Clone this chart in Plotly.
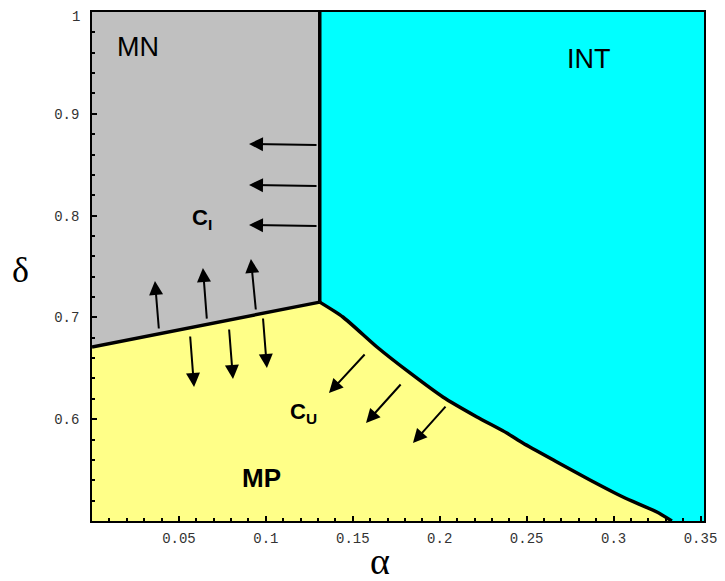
import plotly.graph_objects as go

# ---- data ----
# MN / MP boundary (straight line from left edge to the triple point)
mn_mp_alpha = [0.0, 0.131]
mn_mp_delta = [0.671, 0.715]
# MN / INT boundary (vertical line)
mn_int_alpha = [0.131, 0.131]
mn_int_delta = [0.715, 1.0]
# MP / INT boundary (curve)
mp_int_alpha = [0.131, 0.1443, 0.1639, 0.1829, 0.2018, 0.2214, 0.2386, 0.2478,
                0.2674, 0.2864, 0.3054, 0.3249, 0.3335]
mp_int_delta = [0.715, 0.7004, 0.6709, 0.6454, 0.6218, 0.6022, 0.5864, 0.5766,
                0.5580, 0.5403, 0.5236, 0.5088, 0.5000]

alpha_range = [0.0, 0.352]
delta_range = [0.5, 1.0]

# arrows: tail (alpha, delta) -> head (alpha, delta)
arrow_tail_alpha = [0.130, 0.130, 0.130,
                    0.0385, 0.0661, 0.0943,
                    0.0564, 0.0788, 0.0983,
                    0.1576, 0.1783, 0.2041]
arrow_tail_delta = [0.8693, 0.8291, 0.7898,
                    0.6876, 0.6974, 0.7063,
                    0.6827, 0.6896, 0.7004,
                    0.6650, 0.6356, 0.6139]
arrow_head_alpha = [0.0903, 0.0903, 0.0903,
                    0.0362, 0.0638, 0.0914,
                    0.0587, 0.0811, 0.1006,
                    0.1363, 0.1576, 0.1846]
arrow_head_delta = [0.8703, 0.8301, 0.7908,
                    0.7358, 0.7485, 0.7574,
                    0.6316, 0.6395, 0.6503,
                    0.6257, 0.5963, 0.5766]

# region labels
region_names = ["MN", "INT", "MP"]
region_alpha = [0.0265, 0.286, 0.0972]
region_delta = [0.9656, 0.9538, 0.5423]

x_tickvals = [0.05, 0.1, 0.15, 0.2, 0.25, 0.3, 0.35]
x_ticktext = ["0.05", "0.1", "0.15", "0.2", "0.25", "0.3", "0.35"]
y_tickvals = [0.6, 0.7, 0.8, 0.9, 1.0]
y_ticktext = ["0.6", "0.7", "0.8", "0.9", "1"]

GRAY = "#C0C0C0"
CYAN = "#00FFFF"
YELLOW = "#FFFF88"
TICKFONT = dict(family="Liberation Mono", size=14, color="#333")

fig = go.Figure()

# gray region MN
fig.add_trace(go.Scatter(
    x=[alpha_range[0]] + mn_mp_alpha + [mn_int_alpha[1], alpha_range[0]],
    y=[delta_range[1]] + mn_mp_delta + [mn_int_delta[1], delta_range[1]],
    fill="toself", fillcolor=GRAY, line=dict(width=0), mode="lines",
    hoverinfo="skip", showlegend=False))

# cyan region INT
fig.add_trace(go.Scatter(
    x=[mn_int_alpha[1]] + mp_int_alpha + [alpha_range[1], alpha_range[1], mn_int_alpha[1]],
    y=[mn_int_delta[1]] + mp_int_delta + [delta_range[0], delta_range[1], mn_int_delta[1]],
    fill="toself", fillcolor=CYAN, line=dict(width=0), mode="lines",
    hoverinfo="skip", showlegend=False))

# yellow region MP
fig.add_trace(go.Scatter(
    x=[alpha_range[0]] + mn_mp_alpha + mp_int_alpha[1:] + [alpha_range[0]],
    y=[delta_range[0]] + mn_mp_delta + mp_int_delta[1:] + [delta_range[0]],
    fill="toself", fillcolor=YELLOW, line=dict(width=0), mode="lines",
    hoverinfo="skip", showlegend=False))

# boundaries
fig.add_trace(go.Scatter(x=mn_mp_alpha, y=mn_mp_delta, mode="lines",
                         line=dict(color="black", width=3.5),
                         hoverinfo="skip", showlegend=False))
fig.add_trace(go.Scatter(x=mn_int_alpha, y=mn_int_delta, mode="lines",
                         line=dict(color="black", width=3.5),
                         hoverinfo="skip", showlegend=False))
fig.add_trace(go.Scatter(x=mp_int_alpha, y=mp_int_delta, mode="lines",
                         line=dict(color="black", width=3.5, shape="spline",
                                   smoothing=0.6),
                         hoverinfo="skip", showlegend=False))

# arrows
for ta, td, ha, hd in zip(arrow_tail_alpha, arrow_tail_delta,
                          arrow_head_alpha, arrow_head_delta):
    fig.add_annotation(x=ha, y=hd, ax=ta, ay=td, xref="x", yref="y",
                       axref="x", ayref="y", text="", showarrow=True,
                       arrowhead=2, arrowsize=1.4, arrowwidth=2,
                       arrowcolor="black")

# region labels
for name, a, d in zip(region_names, region_alpha, region_delta):
    bold = name == "MP"
    fig.add_annotation(x=a, y=d, xref="x", yref="y", text=name, showarrow=False,
                       font=dict(family="Liberation Sans", size=26 if bold else 27,
                                 color="black", weight=700 if bold else 400))

fig.add_annotation(x=0.063, y=0.797, xref="x", yref="y",
                   text="C<sub>I</sub>", showarrow=False,
                   font=dict(family="Liberation Sans", size=22, color="black", weight=600))
fig.add_annotation(x=0.1215, y=0.606, xref="x", yref="y",
                   text="C<sub>U</sub>", showarrow=False,
                   font=dict(family="Liberation Sans", size=22, color="black", weight=600))

# top y tick label (would be dropped by the axis as it touches the page edge)
fig.add_annotation(x=0.0, y=y_tickvals[-1], xref="paper", yref="y",
                   text=y_ticktext[-1], showarrow=False, xanchor="right",
                   xshift=-10, yshift=-5, font=TICKFONT)

# axis titles
fig.add_annotation(x=0.0, y=0.493, xref="paper", yref="paper", xshift=-72,
                   text="δ", showarrow=False, xanchor="center",
                   font=dict(family="Liberation Serif", size=36, color="black"))
fig.add_annotation(x=0.47, y=0.0, xref="paper", yref="paper", yshift=-40,
                   text="α", showarrow=False, yanchor="middle",
                   font=dict(family="Liberation Serif", size=38, color="black"))

fig.update_xaxes(range=alpha_range, tickvals=x_tickvals, ticktext=x_ticktext,
                 ticks="inside", ticklen=5, tickwidth=1.5, tickcolor="black",
                 minor=dict(dtick=0.01, ticks="inside", ticklen=3, tickcolor="black"),
                 showline=True, linecolor="black", linewidth=1.5, mirror=True,
                 showgrid=False, zeroline=False, automargin=False, ticklabelstandoff=3,
                 tickfont=TICKFONT)
fig.update_yaxes(range=delta_range, tickvals=y_tickvals[:-1], ticktext=y_ticktext[:-1],
                 ticks="inside", ticklen=5, tickwidth=1.5, tickcolor="black",
                 minor=dict(dtick=0.02, ticks="inside", ticklen=3, tickcolor="black"),
                 showline=True, linecolor="black", linewidth=1.5, mirror=True,
                 showgrid=False, zeroline=False, automargin=False, ticklabelstandoff=8,
                 tickfont=TICKFONT)

# page body adds ~8px offset; compensate so plot area lands at the reference position
fig.update_layout(width=717, height=573,
                  margin=dict(l=84, r=21, t=4, b=60),
                  paper_bgcolor="white", plot_bgcolor="white")

fig.write_html("out.html")
